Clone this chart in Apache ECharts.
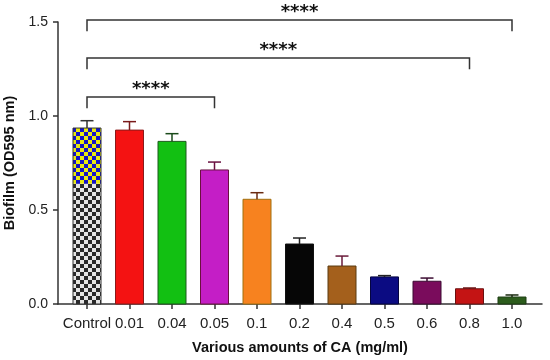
<!DOCTYPE html>
<html><head><meta charset="utf-8">
<script src="https://cdn.jsdelivr.net/npm/echarts@6/dist/echarts.min.js"></script>
<style>html,body{margin:0;padding:0;background:#fff}#c{width:550px;height:360px}</style>
</head><body><div id="c"></div>
<script>
// ---- data ----
const categories = ['Control','0.01','0.04','0.05','0.1','0.2','0.4','0.5','0.6','0.8','1.0'];
const means  = [0.936,0.925,0.865,0.713,0.557,0.319,0.202,0.144,0.121,0.081,0.037];
const errors = [0.039,0.045,0.041,0.042,0.035,0.032,0.053,0.007,0.017,0.004,0.011];
const yTicks = [0, 0.5, 1.0, 1.5];
// comparisons: from category index, to category index, bracket level, label
const compFrom  = [0, 0, 0];
const compTo    = [3, 9, 10];
const compLevel = [1.101, 1.309, 1.511];
const compLabel = ['****','****','****'];

// ---- styles ----
const fills   = [null,'#f41212','#12c012','#c41ec6','#f7821f','#060606','#a4601c','#0b0b82','#7a0c5c','#c41414','#2c5c1c'];
const borders = ['#333','#8a1a1a','#1a5a1a','#6a1040','#a07010','#111','#5a3a10','#050540','#3a0a30','#6a1010','#1a3a10'];
const errCols = ['#333','#7a1a1a','#1a4a1a','#6a1040','#6a2a10','#222','#6a1a3a','#222','#3a0a30','#6a1010','#1a2a10'];
const controlSplit = 0.64;
function checker(c1, c2, s){
  const cv = document.createElement('canvas'); cv.width = 2*s; cv.height = 2*s;
  const g = cv.getContext('2d');
  g.fillStyle = c1; g.fillRect(0,0,2*s,2*s);
  g.fillStyle = c2; g.fillRect(0,0,s,s); g.fillRect(s,s,s,s);
  return cv;
}
const patTop = {image: checker('#e8e810','#1414c8',4), repeat:'repeat'};
const patBot = {image: checker('#e6e6e6','#2a2a2a',4), repeat:'repeat'};

const AXC = '#333';
const FONT = 'Liberation Sans, Arial, sans-serif';
const chart = echarts.init(document.getElementById('c'), null, {renderer:'canvas'});
const option = {
  animation:false,
  backgroundColor:'#fff',
  grid:[
    {left:58, right:8, top:22, bottom:56, outerBoundsMode:'none', containLabel:false},
    {left:65.75, width:467.5, top:3.2, bottom:56, outerBoundsMode:'none', containLabel:false}
  ],
  xAxis:[
    {gridIndex:0, type:'value', min:0, max:1, axisLine:{show:true, lineStyle:{color:AXC,width:1.5}},
     axisTick:{show:false}, axisLabel:{show:false}, splitLine:{show:false},
     name:'Various amounts of CA (mg/ml)', nameLocation:'middle', nameGap:36,
     nameTextStyle:{fontFamily:FONT, fontWeight:'bold', fontSize:14.5, color:'#111'}},
    {gridIndex:1, type:'category', data:categories, boundaryGap:true,
     axisLine:{show:false}, axisTick:{show:true, alignWithLabel:true, length:5, lineStyle:{color:AXC,width:1.5}},
     axisLabel:{fontFamily:FONT, fontSize:15, color:'#222', margin:12, interval:0}}
  ],
  yAxis:[
    {gridIndex:0, type:'value', min:yTicks[0], max:yTicks[yTicks.length-1], interval:yTicks[1]-yTicks[0],
     axisLine:{show:true, lineStyle:{color:AXC,width:1.5}},
     axisTick:{show:true, length:5, lineStyle:{color:AXC,width:1.5}},
     axisLabel:{fontFamily:FONT, fontSize:14, color:'#222', margin:10, formatter:v=>v.toFixed(1)},
     splitLine:{show:false},
     name:'Biofilm (OD595 nm)', nameLocation:'middle', nameGap:34,
     nameTextStyle:{fontFamily:FONT, fontWeight:'bold', fontSize:14.5, color:'#111'}},
    {gridIndex:1, type:'value', min:0, max:1.6, show:false}
  ],
  series:[
    {type:'custom', xAxisIndex:1, yAxisIndex:1, clip:false,
     data: means.map((m,i)=>[i, m, errors[i]]),
     renderItem(params, api){
       const i = api.value(0), v = api.value(1), e = api.value(2);
       const b = api.coord([i,0]), t = api.coord([i,v]), et = api.coord([i,v+e]);
       const w = 28, x = b[0]-w/2;
       const ch = [];
       if (i === 0){
         const s = api.coord([i, controlSplit]);
         ch.push({type:'rect', shape:{x:x, y:s[1], width:w, height:b[1]-s[1]}, style:{fill:patBot}});
         ch.push({type:'rect', shape:{x:x, y:t[1], width:w, height:s[1]-t[1]}, style:{fill:patTop}});
         ch.push({type:'rect', shape:{x:x, y:t[1], width:w, height:b[1]-t[1]}, style:{fill:null, stroke:borders[i], lineWidth:1}});
       } else {
         ch.push({type:'rect', shape:{x:x, y:t[1], width:w, height:b[1]-t[1]}, style:{fill:fills[i], stroke:borders[i], lineWidth:1}});
       }
       ch.push({type:'line', shape:{x1:t[0], y1:t[1], x2:et[0], y2:et[1]}, style:{stroke:errCols[i], lineWidth:1.5}});
       ch.push({type:'line', shape:{x1:t[0]-6.5, y1:et[1], x2:t[0]+6.5, y2:et[1]}, style:{stroke:errCols[i], lineWidth:1.5}});
       return {type:'group', children:ch};
     }},
    {type:'custom', xAxisIndex:1, yAxisIndex:1, clip:false,
     data: compFrom.map((f,k)=>[f, compTo[k], compLevel[k]]),
     renderItem(params, api){
       const k = params.dataIndex;
       const a = api.value(0), bb = api.value(1), y = api.value(2);
       const p1 = api.coord([a,y]), p2 = api.coord([bb,y]);
       const d = api.coord([a, y-0.06]);
       return {type:'group', children:[
         {type:'polyline', shape:{points:[[p1[0],d[1]],[p1[0],p1[1]],[p2[0],p2[1]],[p2[0],d[1]]]},
          style:{stroke:AXC, lineWidth:1.5, fill:null}},
         {type:'text', style:{text:compLabel[k], x:(p1[0]+p2[0])/2, y:p1[1]-8, align:'center', verticalAlign:'middle',
          font:'bold 18px DejaVu Sans, sans-serif', fill:'#111'}}
       ]};
     }}
  ]
};
chart.setOption(option);
</script>
</body></html>
